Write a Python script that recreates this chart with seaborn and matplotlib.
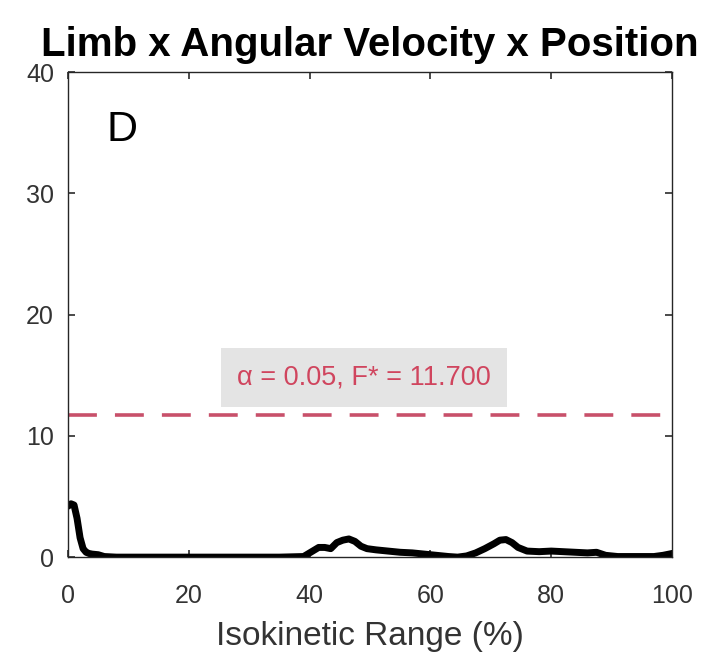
import numpy as np
import pandas as pd
import matplotlib
matplotlib.use("Agg")
import matplotlib.pyplot as plt
import seaborn as sns

# Data
x_pct = [0, 0.5, 1, 1.5, 2, 2.5, 3, 3.5, 4, 5, 6, 8, 10, 15, 20, 25, 30, 35, 39, 40.5, 41.5,
         42.5, 43.5, 44.5, 45.5, 46.5, 47.5, 48.5, 49.5, 51, 53, 55, 57, 59, 61, 63, 64.5, 66,
         67.5, 69, 70.5, 71.5, 72.5, 73.5, 74.5, 76, 78, 80, 82, 84, 86, 87.5, 89, 91, 93, 95,
         97, 98.5, 100]
f_stat = [4.2, 4.4, 4.3, 3.2, 1.6, 0.7, 0.4, 0.3, 0.25, 0.2, 0.05, 0.0, 0.0, 0.0, 0.0, 0.0, 0.0,
          0.0, 0.05, 0.5, 0.8, 0.8, 0.7, 1.2, 1.4, 1.5, 1.3, 0.9, 0.7, 0.6, 0.5, 0.4, 0.35, 0.25,
          0.15, 0.05, 0.0, 0.1, 0.35, 0.7, 1.1, 1.4, 1.45, 1.2, 0.8, 0.5, 0.45, 0.5, 0.45, 0.4,
          0.35, 0.4, 0.15, 0.05, 0.05, 0.05, 0.05, 0.15, 0.3]
threshold = 11.7
threshold_label = "\u03b1 = 0.05, F* = 11.700"
panel_letter = "D"
title = "Limb x Angular Velocity x Position"
xlabel = "Isokinetic Range (%)"
x_ticks = [0, 20, 40, 60, 80, 100]
y_ticks = [0, 10, 20, 30, 40]

sns.set_theme(style="ticks")
plt.rcParams['font.family'] = ['Liberation Sans', 'DejaVu Sans']

fig = plt.figure(figsize=(7.09, 6.57), dpi=100)
ax = fig.add_axes([0.0959, 0.152, 0.852, 0.738])

df = pd.DataFrame({"x": x_pct, "F": f_stat})
sns.lineplot(data=df, x="x", y="F", ax=ax, color="black", linewidth=5)
ax.axhline(threshold, color="#c8506a", linestyle=(0, (8, 5)), linewidth=2.6)
ax.text(49, 14.8, threshold_label, color="#d0455e", fontsize=19.5,
        ha="center", va="center",
        bbox=dict(facecolor="#e4e4e4", edgecolor="none", boxstyle="square,pad=0.6"))
ax.text(6.3, 35.2, panel_letter, fontsize=31, ha="left", va="center", color="black")

ax.set_xlim(0, 100)
ax.set_ylim(0, 40)
ax.set_xticks(x_ticks)
ax.set_yticks(y_ticks)
for s in ax.spines.values():
    s.set_visible(True)
    s.set_color("#262626")
    s.set_linewidth(1.0)
ax.tick_params(direction="in", top=True, right=True, labelsize=18, colors="#333333",
               length=5)
ax.tick_params(axis="x", pad=19)
ax.tick_params(axis="y", pad=10)
ax.set_xlabel(xlabel, fontsize=24, color="#333333", labelpad=10)
ax.set_ylabel("")
ax.set_title(title, fontsize=29, fontweight="bold", color="black", pad=12)

fig.savefig("out.png", dpi=100)
